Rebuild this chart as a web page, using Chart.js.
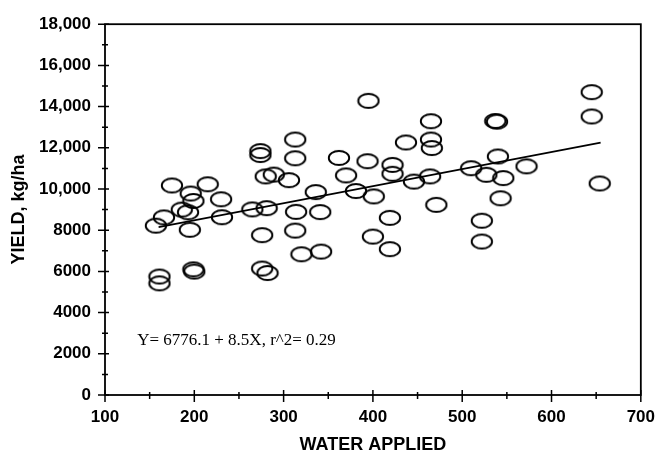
<!DOCTYPE html>
<html><head><meta charset="utf-8">
<script src="https://cdn.jsdelivr.net/npm/chart.js@4.4.0/dist/chart.umd.min.js"></script>
<style>html,body{margin:0;padding:0;background:#fff;} #wrap{width:667px;height:454px;position:relative;}</style>
</head><body><div id="wrap"><canvas id="c" width="667" height="454"></canvas></div>
<script>
const waterApplied = [157,166,161,161,175,186,193,196,199,195,199,200,215,230,231,265,274,274,276,276,282,281,280,289,306,313,313,314,313,320,336,341,342,362,370,381,395,394,401,400,419,419,422,422,437,446,465,465,466,464,471,510,522,522,527,537,539,540,543,546,572,645,645,654];
const yieldKgHa = [8220,8620,5750,5420,10170,9000,8870,9780,9420,8020,6100,5990,10230,9500,8630,9010,11840,11650,7760,6140,5920,9070,10610,10700,10430,12400,11490,8890,7980,6830,9850,8880,6960,11510,10660,9900,14280,11350,9640,7690,7080,8600,11170,10740,12260,10360,13290,12400,11990,10610,9230,11010,8460,7450,10690,13300,13270,11580,9550,10530,11100,14700,13520,10270];
const fitX = [160, 655];
const fitY = [8150, 12250];
const xTickValues = [100,200,300,400,500,600,700];
const xMinorTicks = [150,250,350,450,550,650];
const yTickValues = [0,2000,4000,6000,8000,10000,12000,14000,16000,18000];
const yMinorTicks = [1000,3000,5000,7000,9000,11000,13000,15000,17000];
const xTitle = 'WATER APPLIED';
const yTitle = 'YIELD, kg/ha';
const equationText = 'Y= 6776.1 + 8.5X, r^2= 0.29';
const equationAt = {x: 136, y: 2650};

// ellipse marker
const mk = document.createElement('canvas');
mk.width = 24; mk.height = 18;
(function(){const g = mk.getContext('2d'); g.strokeStyle = '#000'; g.lineWidth = 1.9;
  g.beginPath(); g.ellipse(12, 9, 10.2, 7, 0, 0, Math.PI*2); g.stroke();})();

const pts = waterApplied.map((x,i)=>({x, y: yieldKgHa[i]}));
const fit = fitX.map((x,i)=>({x, y: fitY[i]}));

const framePlugin = {
  id: 'frame',
  afterDraw(chart) {
    const {ctx, chartArea: a, scales: {x, y}} = chart;
    ctx.save();
    ctx.strokeStyle = '#000';
    ctx.lineWidth = 1.8;
    ctx.strokeRect(a.left, a.top, a.right - a.left, a.bottom - a.top);
    ctx.lineWidth = 1.5;
    ctx.beginPath();
    yTickValues.forEach(v => { const p = y.getPixelForValue(v); ctx.moveTo(a.left - 7, p); ctx.lineTo(a.left + 4, p); });
    yMinorTicks.forEach(v => { const p = y.getPixelForValue(v); ctx.moveTo(a.left - 3, p); ctx.lineTo(a.left + 3, p); });
    xTickValues.forEach(v => { const p = x.getPixelForValue(v); ctx.moveTo(p, a.bottom - 5); ctx.lineTo(p, a.bottom + 7); });
    xMinorTicks.forEach(v => { const p = x.getPixelForValue(v); ctx.moveTo(p, a.bottom - 3); ctx.lineTo(p, a.bottom + 4); });
    ctx.stroke();
    ctx.fillStyle = '#000';
    ctx.font = '17px "Liberation Serif", "Times New Roman", serif';
    ctx.textBaseline = 'middle';
    ctx.textAlign = 'left';
    ctx.fillText(equationText, x.getPixelForValue(equationAt.x), y.getPixelForValue(equationAt.y));
    ctx.restore();
  }
};

Chart.defaults.color = '#000';
new Chart(document.getElementById('c'), {
  type: 'scatter',
  data: { datasets: [
    { data: pts, pointStyle: mk, pointRadius: 8, borderColor: '#000', backgroundColor: 'rgba(0,0,0,0)', order: 1 },
    { type: 'line', data: fit, showLine: true, pointRadius: 0, borderColor: '#000', borderWidth: 1.6, fill: false, order: 2 }
  ]},
  options: {
    responsive: false, animation: false, devicePixelRatio: 1,
    layout: { padding: { left: 0, right: 16, top: 19, bottom: 0 } },
    plugins: { legend: { display: false }, tooltip: { enabled: false } },
    scales: {
      x: {
        type: 'linear', min: 100, max: 700,
        afterBuildTicks: s => { s.ticks = xTickValues.map(v => ({value: v})); },
        afterFit: s => { s.height = 59; },
        grid: { display: false, drawTicks: false },
        border: { display: false },
        ticks: { padding: 12, font: { family: '"Liberation Sans", Arial, sans-serif', size: 17, weight: 'bold' }, callback: v => String(v) },
        title: { display: true, text: xTitle, font: { family: '"Liberation Sans", Arial, sans-serif', size: 18, weight: 'bold', lineHeight: 1 }, padding: { top: 0, bottom: 0 } }
      },
      y: {
        type: 'linear', min: 0, max: 18000,
        afterBuildTicks: s => { s.ticks = yTickValues.map(v => ({value: v})); },
        afterFit: s => { s.width = 105; },
        grid: { display: false, drawTicks: false },
        border: { display: false },
        ticks: { padding: 14, font: { family: '"Liberation Sans", Arial, sans-serif', size: 17, weight: 'bold' },
          callback: v => v >= 10000 ? v.toLocaleString('en-US') : String(v) },
        title: { display: true, text: yTitle, font: { family: '"Liberation Sans", Arial, sans-serif', size: 18, weight: 'bold', lineHeight: 1 }, padding: { top: 10, bottom: 0 } }
      }
    }
  },
  plugins: [framePlugin]
});
</script></body></html>
